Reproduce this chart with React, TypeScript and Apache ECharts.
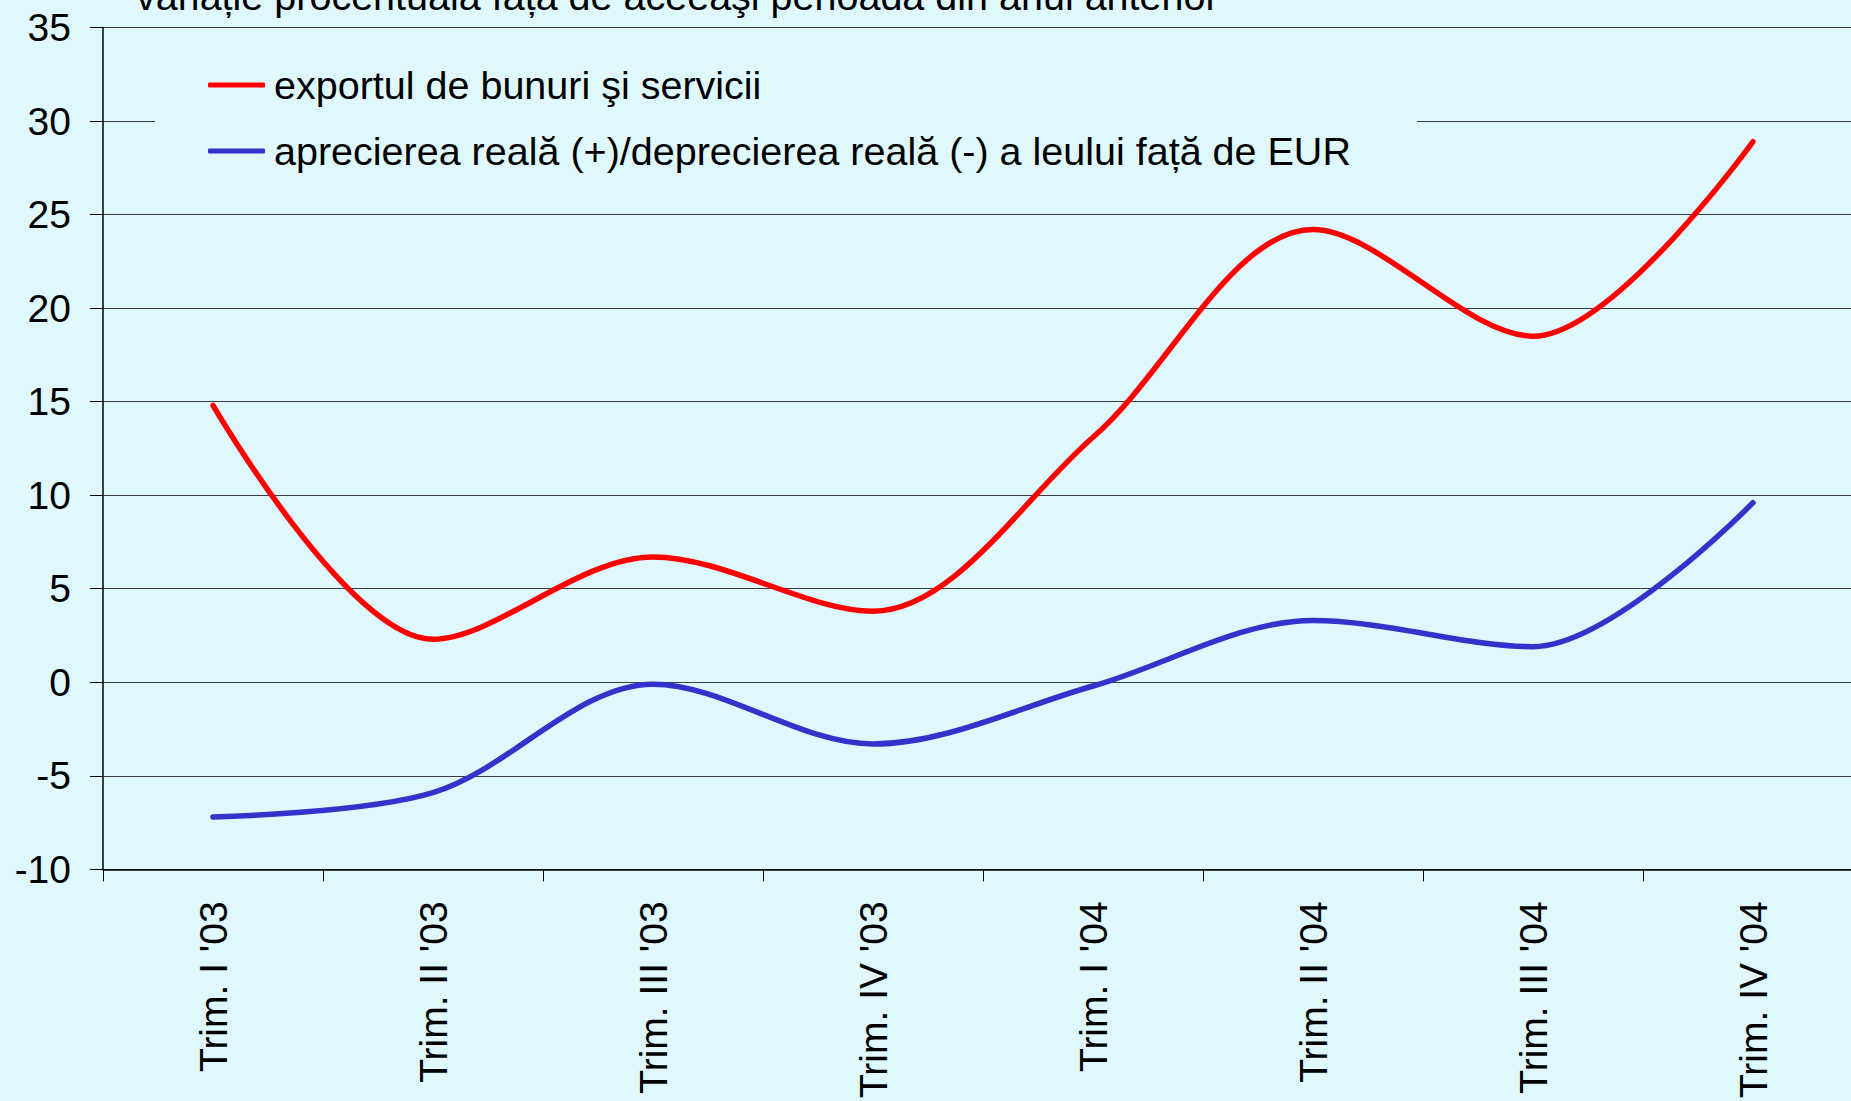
import React, { useEffect, useRef } from "react";
import * as echarts from "echarts";

const categories = [
  "Trim. I '03",
  "Trim. II '03",
  "Trim. III '03",
  "Trim. IV '03",
  "Trim. I '04",
  "Trim. II '04",
  "Trim. III '04",
  "Trim. IV '04",
];
const exportValues = [14.8, 2.3, 6.7, 3.8, 13.1, 24.2, 18.5, 28.9];
const leuValues = [-7.2, -5.9, -0.1, -3.3, -0.2, 3.3, 1.9, 9.6];
const seriesNames = [
  "exportul de bunuri şi servicii",
  "aprecierea reală (+)/deprecierea reală (-) a leului față de EUR",
];
const subtitle = "variație procentuală față de aceeaşi perioadă din anul anterior";
const yMin = -10;
const yMax = 35;
const yInterval = 5;

const BG = "#DFF8FD";
const FONT = "'Liberation Sans', Arial, sans-serif";

export default function App() {
  const ref = useRef<HTMLDivElement>(null);
  useEffect(() => {
    if (!ref.current) return;
    document.body.style.overflow = "hidden";
    const chart = echarts.init(ref.current, null, { renderer: "svg" });
    chart.setOption({
      animation: false,
      backgroundColor: BG,
      textStyle: { fontFamily: FONT },
      grid: { left: 103, top: 27.6, bottom: 231, right: 0, containLabel: false },
      graphic: [
        {
          type: "text",
          left: 136,
          top: -24,
          style: {
            text: subtitle,
            fontSize: 39.5,
            fontFamily: FONT,
            fill: "#000",
          },
        },
      ],
      legend: {
        orient: "vertical",
        left: 155,
        top: 32,
        padding: [30, 66, 30, 53],
        backgroundColor: BG,
        itemWidth: 57,
        itemHeight: 5,
        itemGap: 20,
        icon: "roundRect",
        textStyle: {
          fontSize: 39.5,
          fontFamily: FONT,
          color: "#000",
          lineHeight: 46,
          padding: [0, 0, 0, 4],
        },
        data: seriesNames,
      },
      xAxis: {
        type: "category",
        data: categories,
        boundaryGap: true,
        axisLine: { onZero: false, lineStyle: { color: "#000", width: 1.5 } },
        axisTick: { show: true, length: 12, inside: false, lineStyle: { color: "#000", width: 1 } },
        axisLabel: {
          rotate: 90,
          margin: 32,
          fontSize: 39,
          fontFamily: FONT,
          color: "#000",
          interval: 0,
        },
        splitLine: { show: false },
      },
      yAxis: {
        type: "value",
        min: yMin,
        max: yMax,
        interval: yInterval,
        axisLine: { show: true, lineStyle: { color: "#000", width: 1.5 } },
        axisTick: { show: true, length: 13, lineStyle: { color: "#000", width: 1 } },
        axisLabel: { margin: 32, fontSize: 39, fontFamily: FONT, color: "#000" },
        splitLine: { show: true, lineStyle: { color: "#3a3f40", width: 1 } },
      },
      series: [
        {
          name: seriesNames[0],
          type: "line",
          data: exportValues,
          smooth: 0.33,
          symbol: "none",
          color: "#FF0000",
          lineStyle: { color: "#FF0000", width: 5.5, cap: "round", join: "round" },
          z: 3,
        },
        {
          name: seriesNames[1],
          type: "line",
          data: leuValues,
          smooth: 0.33,
          symbol: "none",
          color: "#3333CC",
          lineStyle: { color: "#3333CC", width: 5.5, cap: "round", join: "round" },
          z: 3,
        },
      ],
    });
    return () => chart.dispose();
  }, []);
  return (
    <div
      ref={ref}
      style={{ position: "fixed", left: 0, top: 0, width: 1863, height: 1101 }}
    />
  );
}
